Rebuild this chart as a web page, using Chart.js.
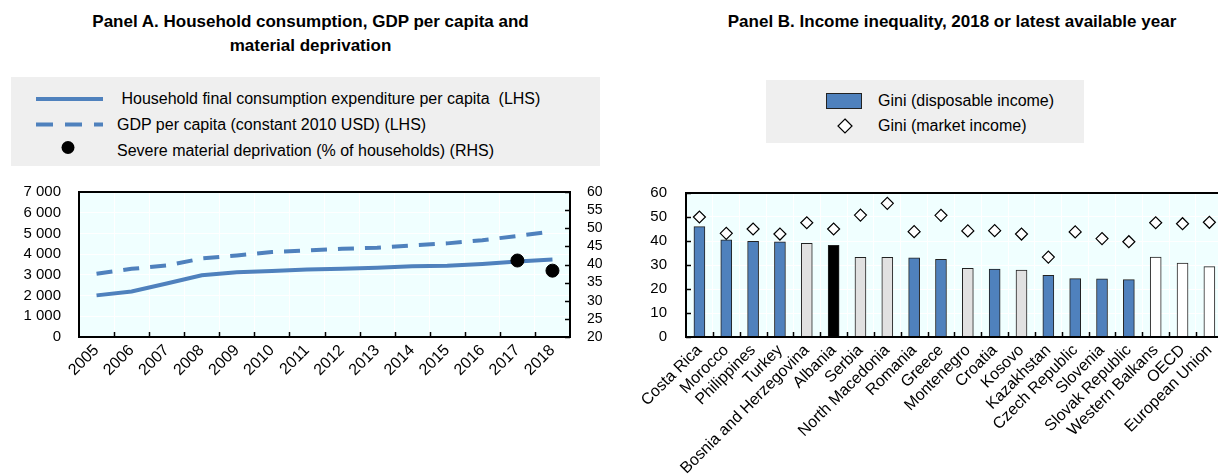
<!DOCTYPE html>
<html>
<head>
<meta charset="utf-8">
<script src="https://cdn.jsdelivr.net/npm/chart.js@4.4.1/dist/chart.umd.min.js"></script>
<style>
  html, body { margin: 0; padding: 0; width: 1218px; height: 475px; overflow: hidden; background: #fff; }
  body { position: relative; font-family: 'Liberation Sans', Arial, sans-serif; color: #000; }
  .title { position: absolute; font-weight: bold; font-size: 17px; line-height: 24px; text-align: center; }
  .legend { position: absolute; background: #efefef; }
  .legend .txt { position: absolute; font-size: 16px; line-height: 20px; white-space: pre; }
  canvas { position: absolute; }
</style>
</head>
<body>

<div class="title" style="left:0;top:10px;width:621px;">Panel A. Household consumption, GDP per capita and<br>material deprivation</div>
<div class="title" style="left:652px;top:10px;width:600px;">Panel B. Income inequality, 2018 or latest available year</div>

<!-- legend panel A -->
<div class="legend" style="left:11px;top:77px;width:589px;height:89px;">
  <svg style="position:absolute;left:0;top:0" width="120" height="89">
    <line x1="25" y1="22" x2="92" y2="22" stroke="#4f81bd" stroke-width="4"/>
    <line x1="25" y1="47.5" x2="92" y2="47.5" stroke="#4f81bd" stroke-width="4" stroke-dasharray="17 12"/>
    <circle cx="57" cy="70.5" r="6.5" fill="#000"/>
  </svg>
  <div class="txt" style="left:106px;top:12px;"> Household final consumption expenditure per capita  (LHS)</div>
  <div class="txt" style="left:106px;top:37.5px;">GDP per capita (constant 2010 USD) (LHS)</div>
  <div class="txt" style="left:106px;top:63.5px;">Severe material deprivation (% of households) (RHS)</div>
</div>

<!-- legend panel B -->
<div class="legend" style="left:766px;top:80px;width:318px;height:63px;">
  <svg style="position:absolute;left:0;top:0" width="110" height="63">
    <rect x="60.5" y="13.5" width="35" height="15" fill="#4f81bd" stroke="#222" stroke-width="1"/>
    <polygon points="79,39 86,46 79,53 72,46" fill="#fff" stroke="#000" stroke-width="1.2"/>
  </svg>
  <div class="txt" style="left:112px;top:11px;">Gini (disposable income)</div>
  <div class="txt" style="left:112px;top:36px;">Gini (market income)</div>
</div>

<canvas id="chartA" width="610" height="310" style="left:0;top:165px;"></canvas>
<canvas id="chartB" width="630" height="310" style="left:600px;top:165px;"></canvas>

<script>
// ---- Panel A data ----
const years = ['2005', '2006', '2007', '2008', '2009', '2010', '2011', '2012', '2013', '2014', '2015', '2016', '2017', '2018'];
const consumptionPerCapita = [2010, 2200, 2580, 2980, 3130, 3190, 3260, 3290, 3340, 3420, 3440, 3530, 3650, 3740];
const gdpPerCapita = [3050, 3290, 3450, 3790, 3940, 4100, 4180, 4260, 4310, 4420, 4520, 4670, 4880, 5090];
const materialDeprivation = [null, null, null, null, null, null, null, null, null, null, null, null, 41.1, 38.3];

// ---- Panel B data ----
const countries = ['Costa Rica', 'Morocco', 'Philippines', 'Turkey', 'Bosnia and Herzegovina', 'Albania', 'Serbia',
  'North Macedonia', 'Romania', 'Greece', 'Montenegro', 'Croatia', 'Kosovo', 'Kazakhstan', 'Czech Republic',
  'Slovenia', 'Slovak Republic', 'Western Balkans', 'OECD', 'European Union'];
const giniDisposable = [46.0, 40.5, 39.9, 39.7, 39.0, 38.2, 33.2, 33.2, 33.0, 32.4, 28.6, 28.3, 27.9, 25.7, 24.3, 24.2, 23.9, 33.3, 30.8, 29.3];
const giniMarket = [50.0, 43.2, 45.0, 42.9, 47.6, 45.0, 50.8, 55.7, 43.9, 50.7, 44.2, 44.3, 42.9, 33.3, 43.8, 41.0, 39.7, 47.6, 47.2, 47.8];
const countryGroup = ['other', 'other', 'other', 'other', 'wb', 'focus', 'wb', 'wb', 'other', 'other', 'wb', 'other', 'wb',
  'other', 'other', 'other', 'other', 'agg', 'agg', 'agg'];

const BLUE = '#4f81bd';
const groupColors = {other: BLUE, wb: '#e1e1e1', focus: '#000000', agg: '#ffffff'};
const PLOT_BG = '#f0ffff';

Chart.defaults.font.family = "'Liberation Sans', Arial, sans-serif";
Chart.defaults.color = '#000';

// plot background, frame and inward tick marks
const frame = {
  id: 'frame',
  beforeDraw(chart) {
    const {ctx, chartArea: a} = chart;
    ctx.save();
    ctx.fillStyle = PLOT_BG;
    ctx.fillRect(a.left, a.top, a.width, a.height);
    ctx.restore();
  },
  afterDatasetsDraw(chart, args, opts) {
    const {ctx, chartArea: a} = chart;
    ctx.save();
    ctx.strokeStyle = '#000';
    ctx.lineWidth = 1.5;
    ctx.beginPath();
    const x = chart.scales.x;
    for (let i = 1; i < x.ticks.length; i++) {
      const px = Math.round((x.getPixelForTick(i - 1) + x.getPixelForTick(i)) / 2) + 0.5;
      ctx.moveTo(px, a.bottom);
      ctx.lineTo(px, a.bottom - 5);
    }
    if (opts.yTicks) {
      const y = chart.scales[opts.yTicks];
      const side = y.position === 'right' ? a.right : a.left;
      const dir = y.position === 'right' ? -1 : 1;
      y.ticks.forEach((t, i) => {
        const py = Math.round(y.getPixelForTick(i)) + 0.5;
        ctx.moveTo(side, py);
        ctx.lineTo(side + dir * 5, py);
      });
    }
    ctx.stroke();
    ctx.lineWidth = 2;
    ctx.strokeRect(a.left, a.top, a.width, a.height);
    ctx.restore();
  }
};

function thousands(v) {
  return v >= 1000 ? Math.floor(v / 1000) + ' ' + String(v % 1000).padStart(3, '0') : String(v);
}

new Chart(document.getElementById('chartA'), {
  type: 'line',
  data: {
    labels: years,
    datasets: [
      {label: 'Severe material deprivation (% of households) (RHS)', data: materialDeprivation, yAxisID: 'y2',
        showLine: false, pointRadius: 6.5, pointBackgroundColor: '#000', pointBorderColor: '#000', order: 0},
      {label: 'Household final consumption expenditure per capita  (LHS)', data: consumptionPerCapita, yAxisID: 'y',
        borderColor: BLUE, borderWidth: 4, pointRadius: 0, tension: 0, order: 1},
      {label: 'GDP per capita (constant 2010 USD) (LHS)', data: gdpPerCapita, yAxisID: 'y',
        borderColor: BLUE, borderWidth: 4, borderDash: [16, 11], pointRadius: 0, tension: 0, order: 2}
    ]
  },
  options: {
    responsive: false,
    animation: false,
    layout: {padding: {top: 8, left: 0, right: 0, bottom: 0}},
    plugins: {legend: {display: false}, tooltip: {enabled: false}, frame: {yTicks: 'y2'}},
    scales: {
      x: {
        offset: true,
        grid: {offset: true, color: '#ffffff', drawTicks: false},
        border: {display: false},
        ticks: {autoSkip: false, minRotation: 45, maxRotation: 45, padding: 4, font: {size: 16}},
        afterFit: s => { s.height = 138; }
      },
      y: {
        position: 'left', min: 0, max: 7000,
        grid: {color: '#ffffff', drawTicks: false},
        border: {display: false},
        ticks: {stepSize: 1000, autoSkip: false, padding: 18, font: {size: 15}, callback: v => thousands(v)},
        afterFit: s => { s.width = 79; }
      },
      y2: {
        position: 'right', min: 20, max: 60,
        grid: {drawOnChartArea: false, drawTicks: false},
        border: {display: false},
        ticks: {stepSize: 5, autoSkip: false, padding: 17, font: {size: 14}},
        afterFit: s => { s.width = 40; }
      }
    }
  },
  plugins: [frame]
});

new Chart(document.getElementById('chartB'), {
  type: 'bar',
  data: {
    labels: countries,
    datasets: [
      {type: 'line', label: 'Gini (market income)', data: giniMarket, showLine: false,
        pointStyle: 'rectRot', pointRadius: 6, pointBackgroundColor: '#fff', pointBorderColor: '#000',
        pointBorderWidth: 1.2, order: 0},
      {label: 'Gini (disposable income)', data: giniDisposable,
        backgroundColor: countryGroup.map(g => groupColors[g]), borderColor: '#222', borderWidth: 1,
        barThickness: 11, order: 1}
    ]
  },
  options: {
    responsive: false,
    animation: false,
    layout: {padding: {top: 8, left: 0, right: 4, bottom: 0}},
    plugins: {legend: {display: false}, tooltip: {enabled: false}, frame: {yTicks: 'y'}},
    scales: {
      x: {
        grid: {offset: true, color: '#ffffff', drawTicks: false},
        border: {display: false},
        ticks: {autoSkip: false, minRotation: 45, maxRotation: 45, padding: 4, font: {size: 16}},
        afterFit: s => { s.height = 138; }
      },
      y: {
        min: 0, max: 60,
        grid: {color: '#ffffff', drawTicks: false},
        border: {display: false},
        ticks: {stepSize: 10, autoSkip: false, padding: 19, font: {size: 15}},
        afterFit: s => { s.width = 86; }
      }
    }
  },
  plugins: [frame]
});
</script>
</body>
</html>
